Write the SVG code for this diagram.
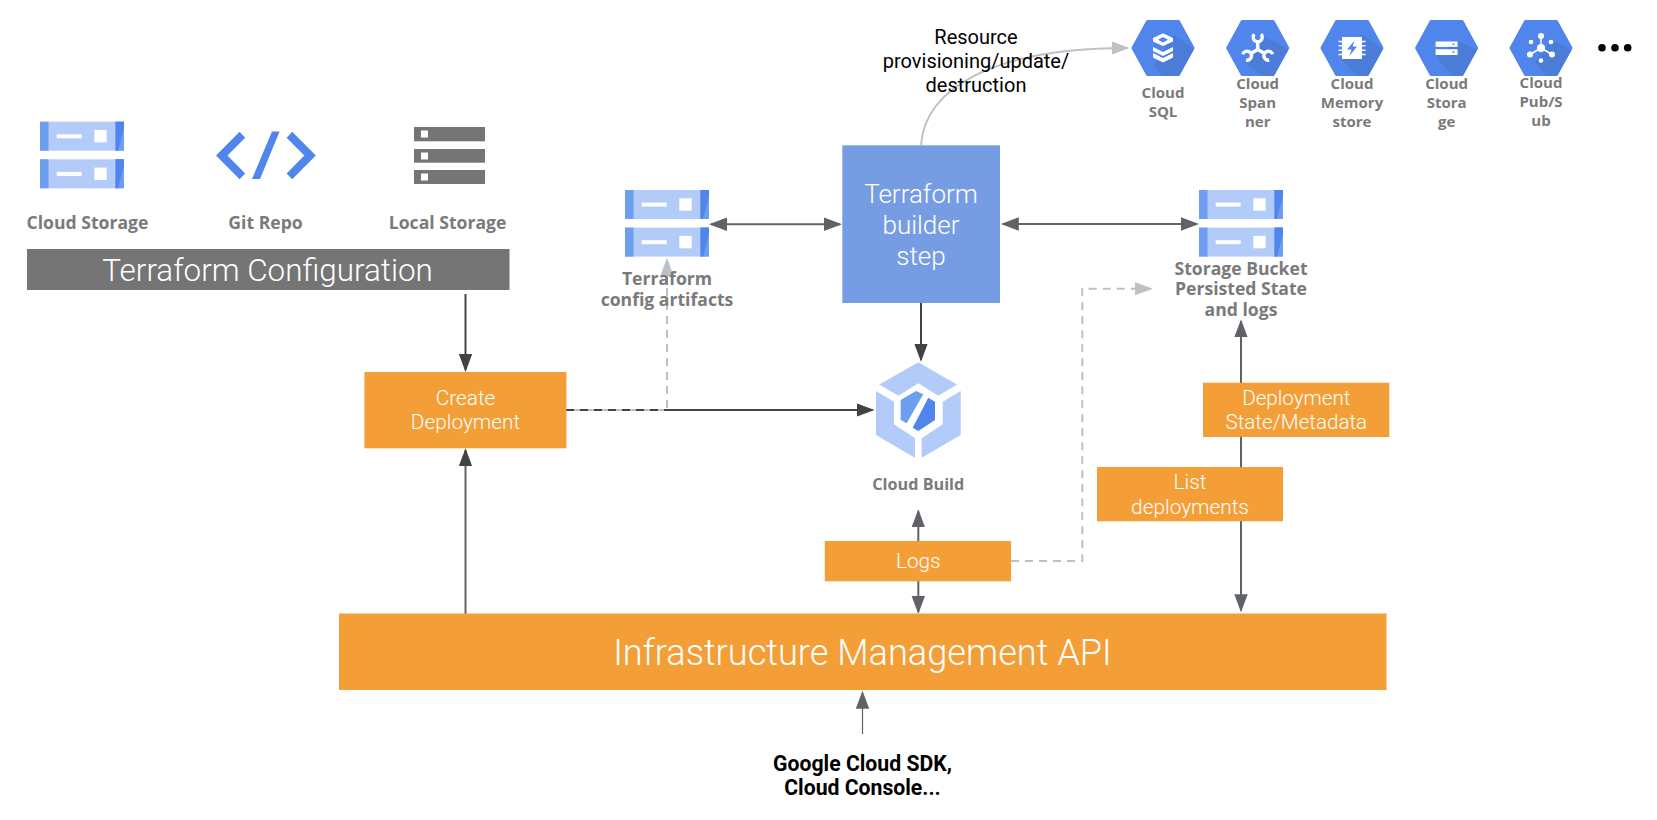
<svg xmlns="http://www.w3.org/2000/svg" width="1657" height="820" viewBox="0 0 1657 820">
<style>
text{text-anchor:middle}
.lab{font-family:"Open Sans","Liberation Sans",sans-serif;font-weight:700;font-size:17.6px;fill:#7a7a7a}
.small{font-size:15px}
.w{font-family:Roboto,"Liberation Sans",sans-serif;font-weight:300;fill:#fff}
.k{font-family:Roboto,"Liberation Sans",sans-serif;fill:#000}
.org{fill:#f49e38}
.c{fill:none;stroke-width:2}
.d{stroke:#424242}
.m{stroke:#5f6368}
.g{stroke:#bdc1c6}
.dash{stroke-dasharray:8 6}
.wf{fill:#fff}
.hexs{fill:#4a7cd8}
</style>
<defs>
<marker id="hd" markerUnits="userSpaceOnUse" markerWidth="18" markerHeight="14" viewBox="0 0 18 14" refX="16" refY="7" orient="auto-start-reverse"><path d="M0 0.3L18 7L0 13.7Z" fill="#424242"/></marker>
<marker id="hm" markerUnits="userSpaceOnUse" markerWidth="18" markerHeight="14" viewBox="0 0 18 14" refX="16" refY="7" orient="auto-start-reverse"><path d="M0 0.3L18 7L0 13.7Z" fill="#5f6368"/></marker>
<marker id="hg" markerUnits="userSpaceOnUse" markerWidth="18" markerHeight="14" viewBox="0 0 18 14" refX="16" refY="7" orient="auto-start-reverse"><path d="M0 0.3L18 7L0 13.7Z" fill="#bdc1c6"/></marker>
<g id="slab">
<rect width="84" height="29" fill="#b3cbf8"/>
<rect width="8.5" height="29" fill="#6d9eef"/>
<rect x="75.5" width="8.5" height="29" fill="#6d9eef"/>
<path d="M75.5 0H84V6L78 29H75.5Z" fill="#4f85ed"/>
<rect x="16.7" y="12.6" width="25" height="4" fill="#fff"/>
<rect x="54.3" y="8.3" width="12.4" height="12.4" fill="#fff"/>
</g>
<g id="server"><use href="#slab"/><use href="#slab" y="37.6"/></g>
<path id="hexp" d="M-30 0L-15.5 -26.5H15.5L30 0L15.5 26.5H-15.5Z" fill="#5086ec" stroke="#5086ec" stroke-width="3" stroke-linejoin="round"/>
<clipPath id="hexc"><path d="M-31.5 0L-16 -28H16L31.5 0L16 28H-16Z"/></clipPath>
</defs>

<g id="connectors">
<path class="c d" d="M465.5 294V370" marker-end="url(#hd)"/>
<path class="c m" d="M465.5 614V450.3" marker-end="url(#hd)"/>
<path class="c d" d="M667 410H872.5" marker-end="url(#hd)"/>
<path class="c g" d="M566 410H667"/>
<path class="c d dash" d="M566 410H667"/>
<path class="c g dash" d="M667 408V260" marker-end="url(#hg)"/>
<path class="c d" d="M921 303V359.7" marker-end="url(#hd)"/>
<path class="c m" d="M711 224.3H840" marker-start="url(#hm)" marker-end="url(#hm)"/>
<path class="c m" d="M1002.8 224H1197" marker-start="url(#hm)" marker-end="url(#hm)"/>
<path class="c g" d="M921 145C925 90 990 48 1127.5 48" marker-end="url(#hg)"/>
<path class="c m" d="M918.3 541V511.3" marker-end="url(#hm)"/>
<path class="c m" d="M918.3 581V612" marker-end="url(#hm)"/>
<path class="c g dash" d="M1011 561H1082.3V288.7H1150.7" marker-end="url(#hg)"/>
<path class="c m" d="M1241 321.3V610.3" marker-start="url(#hm)" marker-end="url(#hm)"/>
<path class="c m" style="stroke-width:1.2" d="M862.5 734V692.7" marker-end="url(#hm)"/>
</g>

<g id="cloud-storage-src"><use href="#server" x="40" y="121.7"/><text class="lab" x="87.5" y="228.5">Cloud Storage</text></g>
<g id="git-repo">
<path fill="#5086ec" d="M216 155.5L239.6 131.7L245.2 137.7L227.5 155.5L245.2 173.5L239.6 179.3Z"/>
<path fill="#5086ec" d="M315.8 155.5L292.2 131.7L286.6 137.7L304.3 155.5L286.6 173.5L292.2 179.3Z"/>
<path fill="#5086ec" d="M272 131.5H279.6L260 179H252Z"/>
<text class="lab" x="265.5" y="228.5">Git Repo</text>
</g>
<g id="local-storage">
<rect x="414" y="127" width="71" height="14.3" fill="#757575"/>
<rect x="414" y="149" width="71" height="13.7" fill="#757575"/>
<rect x="414" y="170" width="71" height="14" fill="#757575"/>
<rect x="421" y="130.5" width="7" height="7" fill="#fff"/>
<rect x="421" y="152.5" width="7" height="7" fill="#fff"/>
<rect x="421" y="173.5" width="7" height="7" fill="#fff"/>
<text class="lab" x="447.6" y="228.5">Local Storage</text>
</g>
<g id="terraform-configuration"><rect x="27" y="249" width="482.5" height="41" fill="#757575"/><text class="w" x="267.6" y="281" font-size="31.4">Terraform Configuration</text></g>

<g id="terraform-artifacts"><use href="#server" x="625" y="190"/><text class="lab" x="667" y="285">Terraform</text><text class="lab" x="667" y="305.7">config artifacts</text></g>
<g id="terraform-builder"><rect x="842.3" y="145.3" width="157.7" height="157.7" fill="#769de4"/>
<text class="w" x="921" y="203" font-size="26">Terraform</text><text class="w" x="921" y="233.5" font-size="26">builder</text><text class="w" x="921" y="264.5" font-size="26">step</text></g>
<g id="storage-bucket"><use href="#server" x="1199" y="190"/><text class="lab" x="1241" y="275">Storage Bucket</text><text class="lab" x="1241" y="295">Persisted State</text><text class="lab" x="1241" y="316">and logs</text></g>

<g id="create-deployment"><rect class="org" x="364.4" y="372" width="202" height="76.3"/><text class="w" x="465.5" y="405" font-size="20.8">Create</text><text class="w" x="465.5" y="429" font-size="20.8">Deployment</text></g>
<g id="cloud-build">
<path fill="#b3cbf8" d="M918.3 362.3L957 384.5L938.3 395.7L918.3 383.3L898.3 395.7L879.3 384.5Z"/>
<path fill="#b3cbf8" d="M876 391L894 401.7V424.3L915 438.3V457.7L876 435Z"/>
<path fill="#b3cbf8" d="M960.7 391L942.7 401.7V424.3L921.7 438.3V457.7L960.7 435Z"/>
<path fill="#6d9eef" d="M900.7 400L916 391L923.3 394.3L906.7 423.3L900.7 420Z"/>
<path fill="#5086ec" d="M928.3 397.7L935 401.7V420L918.3 431L912.7 427.7Z"/>
<text class="lab" x="918.3" y="490" style="font-size:16.2px">Cloud Build</text>
</g>
<g id="logs"><rect class="org" x="824.8" y="541" width="186.2" height="40.3"/><text class="w" x="918.3" y="568" font-size="20.8">Logs</text></g>
<g id="deployment-state"><rect class="org" x="1203" y="382.7" width="186.3" height="54.3"/><text class="w" x="1296.3" y="405" font-size="20.6">Deployment</text><text class="w" x="1296.3" y="429" font-size="20.6">State/Metadata</text></g>
<g id="list-deployments"><rect class="org" x="1097" y="467" width="186" height="54.3"/><text class="w" x="1190" y="489" font-size="20.8">List</text><text class="w" x="1190" y="514" font-size="20.8">deployments</text></g>
<g id="infrastructure-api"><rect class="org" x="339" y="613.5" width="1047.5" height="76.5"/><text class="w" x="862.5" y="665" font-size="36.2">Infrastructure Management API</text></g>
<g id="sdk"><text class="k" x="862.5" y="771" font-size="21.2" font-weight="700">Google Cloud SDK,</text><text class="k" x="862.5" y="795" font-size="21.2" font-weight="700">Cloud Console...</text></g>

<g id="resource-label"><text class="k" x="976" y="44" font-size="20" font-weight="400">Resource</text><text class="k" x="976" y="68" font-size="20" font-weight="400">provisioning/update/</text><text class="k" x="976" y="91.7" font-size="20" font-weight="400">destruction</text></g>

<g id="cloud-sql" transform="translate(1163 48)">
<use href="#hexp"/><path class="hexs" clip-path="url(#hexc)" d="M11 -13L32 2L16 28H0L-10 18Z"/>
<path class="wf" d="M-10 -10L0 -14.7L10 -10V-6.5L0 -2L-10 -6.5Z"/><path fill="#5086ec" d="M-5 -8.3L0 -11L5 -8.3L0 -5.6Z"/>
<path class="wf" d="M-10 -1L0 4L10 -1V3L0 8L-10 3Z"/><path class="wf" d="M-10 5L0 10L10 5V9.5L0 14.5L-10 9.5Z"/>
<g class="lab small"><text x="0" y="49.7">Cloud</text><text x="0" y="68.7">SQL</text></g>
</g>
<g id="cloud-spanner" transform="translate(1257.7 48)">
<use href="#hexp"/><path class="hexs" clip-path="url(#hexc)" d="M7 -11L32 2L16 28H6L-10 18Z"/>
<g id="arm" fill="none" stroke="#fff" stroke-width="3.4"><path d="M0 1.5V-6.5M-3.4 -13.8A4.5 4.5 0 1 0 3.4 -13.8"/></g>
<use href="#arm" transform="rotate(120 0 1.5)"/><use href="#arm" transform="rotate(240 0 1.5)"/>
<g class="lab small"><text x="0" y="41">Cloud</text><text x="0" y="60">Span</text><text x="0" y="79">ner</text></g>
</g>
<g id="cloud-memorystore" transform="translate(1352 48)">
<use href="#hexp"/><path class="hexs" clip-path="url(#hexc)" d="M11 -13L32 2L16 28H6L-10 12Z"/>
<rect class="wf" x="-10" y="-11" width="20" height="22"/>
<path stroke="#fff" stroke-width="1.5" d="M-13.5 -6.5H-10M-13.5 -2.2H-10M-13.5 2.2H-10M-13.5 6.5H-10M13.5 -6.5H10M13.5 -2.2H10M13.5 2.2H10M13.5 6.5H10"/>
<path fill="#5086ec" d="M2.5 -7.5L-5 1.5H-0.5L-2.5 8L5 -1.5H0.5Z"/>
<g class="lab small"><text x="0" y="41">Cloud</text><text x="0" y="60">Memory</text><text x="0" y="79">store</text></g>
</g>
<g id="cloud-storage" transform="translate(1446.6 48)">
<use href="#hexp"/><path class="hexs" clip-path="url(#hexc)" d="M11 -7L32 2L16 28H6L-11 8Z"/>
<rect class="wf" x="-11" y="-6.5" width="22" height="5.4"/><rect class="wf" x="-11" y="1.2" width="22" height="5.8"/>
<circle cx="6.8" cy="-3.8" r="1" fill="#5086ec"/><circle cx="6.8" cy="4.1" r="1" fill="#5086ec"/>
<g class="lab small"><text x="0" y="41">Cloud</text><text x="0" y="60">Stora</text><text x="0" y="79">ge</text></g>
</g>
<g id="cloud-pubsub" transform="translate(1541 48)">
<use href="#hexp"/><path class="hexs" clip-path="url(#hexc)" d="M11 -7L32 2L16 28H6L-6 14Z"/>
<path stroke="#fff" stroke-width="1.5" d="M0 0V-12M0 0L-11 6.5M0 0L11 6.5"/>
<circle class="wf" r="4"/><circle class="wf" cy="-12" r="3"/><circle class="wf" cx="-11" cy="6.5" r="3"/><circle class="wf" cx="11" cy="6.5" r="3"/>
<circle class="wf" cx="-10" cy="-6" r="2.3"/><circle class="wf" cx="10" cy="-6" r="2.3"/><circle class="wf" cy="12.5" r="2.3"/>
<g class="lab small"><text x="0" y="39.7">Cloud</text><text x="0" y="59">Pub/S</text><text x="0" y="78">ub</text></g>
</g>
<g id="more"><circle cx="1602" cy="47.7" r="3.8"/><circle cx="1615" cy="47.7" r="3.8"/><circle cx="1627.7" cy="47.7" r="3.8"/></g>
</svg>
